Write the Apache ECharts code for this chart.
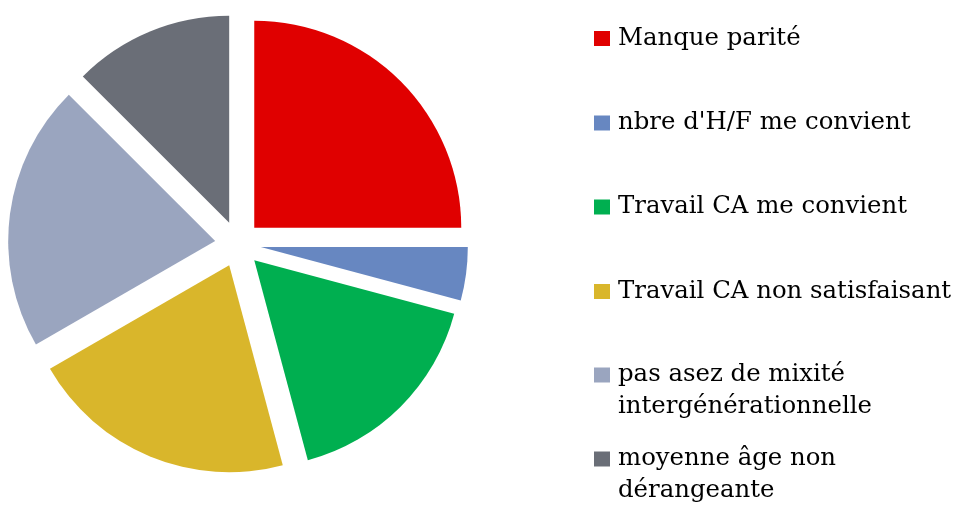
<!DOCTYPE html>
<html>
<head>
<meta charset="utf-8">
<script src="https://cdn.jsdelivr.net/npm/echarts@6/dist/echarts.min.js"></script>
<style>
    html, body { margin: 0; padding: 0; background: #fff; }
    #chart { width: 955px; height: 508px; }
</style>
</head>
<body>
<div id="chart"></div>
<script>
// données
var categories = [
    'Manque parité',
    "nbre d'H/F me convient",
    'Travail CA me convient',
    'Travail CA non satisfaisant',
    'pas asez de mixité\nintergénérationnelle',
    'moyenne âge non\ndérangeante'
];
var values = [6, 1, 4, 5, 5, 3];

var colors = ['#E00000', '#6787C1', '#00AF50', '#D9B62B', '#9AA5BF', '#6A6E77'];
// position verticale du centre de chaque carré de légende
var legendCenters = [38.5, 123, 207, 291.5, 375, 459];

var pieData = [];
for (var i = 0; i < categories.length; i++) {
    pieData.push({ name: categories[i], value: values[i], selected: true });
}

// une légende par élément
// texte sur deux lignes : une ligne vide devant, pour que la 1re ligne soit au niveau du carré
var legends = [];
for (var j = 0; j < categories.length; j++) {
    var twoLines = categories[j].indexOf('\n') >= 0;
    legends.push({
        data: [categories[j]],
        left: 594,
        top: twoLines ? legendCenters[j] - 48 : legendCenters[j] - 16,
        padding: 0,
        itemWidth: 19,
        itemHeight: 15,
        // carré 16x15 + un peu de marge à droite avant le texte
        icon: 'path://M0,0L16,0L16,15L0,15Z M19,15',
        selectedMode: false,
        formatter: function (name) {
            if (name.indexOf('\n') >= 0) {
                return ' \n' + name;
            }
            return name;
        },
        textStyle: {
            fontFamily: 'DejaVu Serif',
            fontSize: 24.4,
            lineHeight: 32,
            color: '#000'
        }
    });
}

var option = {
    animation: false,
    color: colors,
    legend: legends,
    series: [{
        type: 'pie',
        center: [238, 244],
        radius: [0, 207],
        startAngle: 90,
        clockwise: true,
        selectedMode: 'multiple',
        selectedOffset: 23,
        label: { show: false },
        labelLine: { show: false },
        itemStyle: { borderWidth: 0 },
        emphasis: { disabled: true },
        data: pieData
    }]
};

var chart = echarts.init(document.getElementById('chart'));
chart.setOption(option);
</script>
</body>
</html>
